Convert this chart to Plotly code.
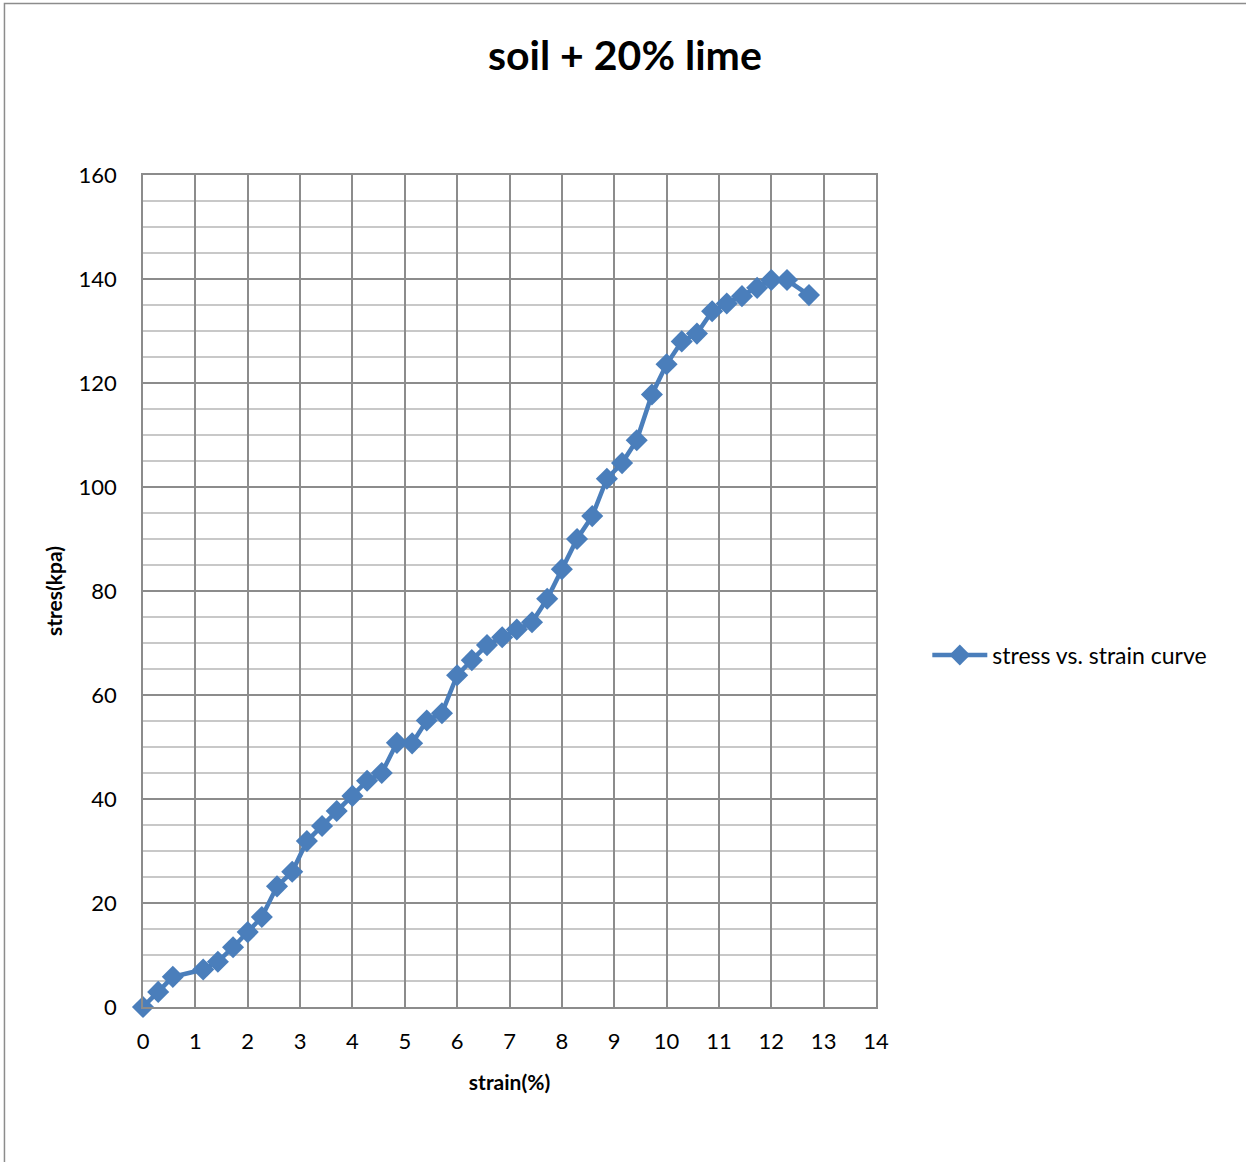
import plotly.graph_objects as go

strain = [0, 0.29, 0.57, 1.15, 1.43, 1.72, 2.0, 2.27, 2.56, 2.85, 3.13, 3.42, 3.70, 4.0,
          4.28, 4.56, 4.85, 5.14, 5.42, 5.71, 6.0, 6.28, 6.57, 6.86, 7.14, 7.43, 7.72,
          8.0, 8.29, 8.58, 8.86, 9.15, 9.43, 9.72, 10.0, 10.29, 10.58, 10.87, 11.15,
          11.44, 11.73, 12.0, 12.3, 12.72]
stress = [0, 2.9, 5.8, 7.2, 8.7, 11.5, 14.4, 17.3, 23.2, 26.0, 31.9, 34.8, 37.7, 40.6,
          43.5, 45.0, 50.8, 50.7, 55.1, 56.5, 63.8, 66.7, 69.6, 71.1, 72.6, 74.0, 78.5,
          84.2, 90.0, 94.4, 101.6, 104.6, 109.0, 117.8, 123.6, 128.0, 129.5, 133.8, 135.3,
          136.7, 138.3, 139.8, 139.8, 136.9]

x_ticks = list(range(0, 15))
y_ticks = list(range(0, 161, 20))

FONT = "Lato, 'Open Sans', sans-serif"
BLUE = "#4A7EBB"

fig = go.Figure()
fig.add_trace(go.Scatter(
    x=strain, y=stress, mode="lines+markers", name="stress vs. strain curve",
    line=dict(color=BLUE, width=4.5),
    marker=dict(symbol="diamond", size=17, color=BLUE),
    cliponaxis=False,
))

fig.update_layout(
    width=1246, height=1162,
    paper_bgcolor="white", plot_bgcolor="white",
    margin=dict(l=143, r=370, t=175, b=155),
    title=dict(text="<b>soil + 20% lime</b>", x=0.5015, xanchor="center", y=0.952, yanchor="middle",
               font=dict(family=FONT, size=41, color="black")),
    font=dict(family=FONT, color="black"),
    showlegend=True,
    legend=dict(x=1.07, y=0.423, xanchor="left", yanchor="middle", itemwidth=55,
                font=dict(family=FONT, size=23, color="black"), bgcolor="rgba(0,0,0,0)"),
    xaxis=dict(range=[0, 14], tickvals=x_ticks, ticktext=[str(v) for v in x_ticks],
               showgrid=True, gridcolor="#8C8C8C", gridwidth=1.5,
               showline=True, linecolor="#8C8C8C", linewidth=1.5, mirror=True,
               zeroline=False, ticks="outside", ticklen=14, tickcolor="rgba(0,0,0,0)",
               tickfont=dict(size=22, family=FONT),
               title=dict(text="<b>strain(%)</b>", font=dict(size=21, family=FONT), standoff=22)),
    yaxis=dict(range=[0, 160], tickvals=y_ticks, ticktext=[str(v) for v in y_ticks],
               showgrid=True, gridcolor="#8C8C8C", gridwidth=1.5,
               minor=dict(dtick=5, showgrid=True, gridcolor="#C8C8C8", gridwidth=1.5),
               showline=True, linecolor="#8C8C8C", linewidth=1.5, mirror=True,
               zeroline=False, ticks="outside", ticklen=20, tickcolor="rgba(0,0,0,0)",
               tickfont=dict(size=22, family=FONT),
               title=dict(text="<b>stres(kpa)</b>", font=dict(size=21, family=FONT), standoff=10)),
)

fig.add_shape(type="rect", xref="paper", yref="paper", x0=-0.189, x1=1.52, y0=-0.20, y1=1.206,
              line=dict(color="#8C8C8C", width=1.5), fillcolor="rgba(0,0,0,0)", layer="below")

fig.write_html("out.html")
